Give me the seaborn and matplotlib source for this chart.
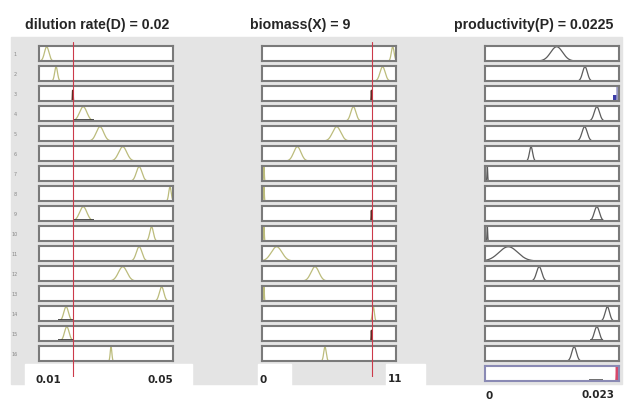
import numpy as np
import pandas as pd
import matplotlib
matplotlib.use("Agg")
import matplotlib.pyplot as plt
import seaborn as sns
from matplotlib.patches import Rectangle

# tamaño de la captura en pixeles
W, H = 629, 402

# datos
titulos = ["dilution rate(D) = 0.02", "biomass(X) = 9", "productivity(P) = 0.0225"]
rangos = [(0.01, 0.05), (0.0, 11.0), (0.0, 0.023)]
etiquetas_rango = [("0.01", "0.05"), ("0", "11"), ("0", "0.023")]
evidencia = [0.02, 9.0, None]

# centro y ancho (sd) del pico de cada fila, None = fila vacia
centros_D = [0.0123, 0.0151, 0.0201, 0.0232, 0.0282, 0.0350, 0.0399, 0.0491,
             0.0232, 0.0436, 0.0399, 0.0350, 0.0466, 0.0181, 0.0183, 0.0315]
anchos_D = [0.00066, 0.00042, 0.00006, 0.0011, 0.0011, 0.0012, 0.00084, 0.00036,
            0.0011, 0.00054, 0.00084, 0.0013, 0.00066, 0.0007, 0.0007, 0.00024]
tipos_D = ["p", "p", "o", "p", "p", "p", "p", "p",
           "p", "p", "p", "p", "p", "p", "p", "p"]

centros_X = [10.73, 9.9, 9.0, 7.5, 6.13, 2.9, 0.16, 0.16,
             9.0, 0.16, 1.2, 4.35, 0.16, 9.14, 9.0, 5.17]
anchos_X = [0.115, 0.21, 0.02, 0.21, 0.34, 0.3, 0.03, 0.03,
            0.02, 0.03, 0.44, 0.33, 0.03, 0.08, 0.02, 0.1]
tipos_X = ["p", "p", "o", "p", "p", "p", "p", "p",
           "o", "p", "p", "p", "p", "p", "o", "p"]

centros_P = [0.0123, 0.01716, 0.0227, 0.0192, 0.0171, 0.0079, 0.0004, None,
             0.0192, 0.0004, 0.0040, 0.0093, None, 0.0210, 0.0192, 0.0153, 0.0226]
anchos_P = [0.00103, 0.00041, 0.00004, 0.00045, 0.00045, 0.00027, 0.00006, None,
            0.00045, 0.00006, 0.0016, 0.00045, None, 0.00038, 0.00042, 0.0004, 0.00004]
tipos_P = ["g", "g", "b", "g", "g", "g", "g", None,
           "g", "g", "g", "g", None, "g", "g", "g", "r"]

# lineas oscuras en la base de algunos picos (fila: desde, hasta)
bases_D = {4: (0.0201, 0.0264), 9: (0.0201, 0.0265), 14: (0.0157, 0.0201), 15: (0.0157, 0.0201)}
bases_X = {}
bases_P = {9: (0.0181, 0.0203), 15: (0.0181, 0.0203), 17: (0.0179, 0.0203)}
bloque_azul = (0.0219, 0.0229, 0.38)  # fila 3 de P

columnas = [
    (centros_D, anchos_D, tipos_D, bases_D),
    (centros_X, anchos_X, tipos_X, bases_X),
    (centros_P, anchos_P, tipos_P, bases_P),
]

colores = {"p": "#bcbc7c", "g": "#5c5c5c", "o": "#5a2a20", "b": "#9a9ac4", "r": "#d8486a"}
alturas = {"p": 0.95, "g": 0.95, "o": 0.7, "b": 0.95, "r": 0.95}

gris = "#e4e4e4"
borde = "#7a7a7a"

sns.set_theme(style="white")
plt.rcParams["font.family"] = ["DejaVu Sans"]


def caja(x0, y0, w, h):
    return [x0 / W, 1 - (y0 + h) / H, w / W, h / H]


def rect_fig(fig, x0, y0, x1, y1, color):
    fig.patches.append(Rectangle((x0 / W, 1 - y1 / H), (x1 - x0) / W, (y1 - y0) / H,
                                 transform=fig.transFigure, color=color, zorder=-5))


fig = plt.figure(figsize=(W / 100, H / 100), dpi=100)
fig.patch.set_facecolor("white")

# fondo gris de la ventana y parches blancos de la captura
rect_fig(fig, 11, 38, 622, 385, gris)
rect_fig(fig, 25, 365, 192, 402, "white")
rect_fig(fig, 258, 365, 291, 402, "white")
rect_fig(fig, 386, 365, 425, 402, "white")

x_col = [39, 262, 485]
ancho_panel, alto_panel, paso, y_ini = 134, 15, 20, 47

for c, (centros, anchos, tipos, bases) in enumerate(columnas):
    lo, hi = rangos[c]
    xs = np.linspace(lo, hi, 3000)
    for i, mu in enumerate(centros):
        ax = fig.add_axes(caja(x_col[c], y_ini + paso * i, ancho_panel, alto_panel))
        ax.set_facecolor("white")
        ax.set_xlim(lo, hi)
        ax.set_ylim(0, 1)
        ax.set_xticks([])
        ax.set_yticks([])
        ultimo = (c == 2 and i == len(centros) - 1)
        for s in ax.spines.values():
            s.set_color("#8a8ab4" if ultimo else borde)
            s.set_linewidth(1.5)
        if mu is None:
            continue
        t = tipos[i]
        sd = anchos[i]
        ys = alturas[t] * np.exp(-0.5 * ((xs - mu) / sd) ** 2)
        df = pd.DataFrame({"x": xs, "y": ys})
        df = df[df["y"] > 0.004]
        lw = 1.3 if t in ("o", "r") else 0.9
        sns.lineplot(data=df, x="x", y="y", ax=ax, color=colores[t], lw=lw,
                     sort=False, estimator=None)
        if t == "b":
            ax.fill_between([bloque_azul[0], bloque_azul[1]], 0, bloque_azul[2],
                            color="#3c3ca8", lw=0)
        if t == "r":
            ax.fill_between([mu - 0.00012, mu + 0.00012], 0, 0.25, color="#6a2a50", lw=0)
        if (i + 1) in bases:
            a, b = bases[i + 1]
            ax.hlines(0.08, a, b, color="#333333" if c == 0 else "#555555", lw=1.2)
        ax.set_xlabel("")
        ax.set_ylabel("")

    # linea roja de evidencia
    if evidencia[c] is not None:
        ov = fig.add_axes(caja(x_col[c], 43, ancho_panel, 335))
        ov.set_xlim(lo, hi)
        ov.axis("off")
        ov.patch.set_alpha(0)
        ov.axvline(evidencia[c], color="#cc3a4a", lw=0.8)

# numeros de fila
for i in range(16):
    fig.text(15 / W, 1 - (y_ini + paso * i + 8) / H, str(i + 1), fontsize=3.5,
             color="#888888", ha="center", va="center")

# titulos
fig.text(25 / W, 1 - 25 / H, titulos[0], fontsize=10.2, fontweight="bold",
         family="Liberation Sans", ha="left", va="center")
fig.text(300 / W, 1 - 25 / H, titulos[1], fontsize=10.2, fontweight="bold",
         family="Liberation Sans", ha="center", va="center")
fig.text(534 / W, 1 - 25 / H, titulos[2], fontsize=10.2, fontweight="bold",
         family="Liberation Sans", ha="center", va="center")

# etiquetas de rango
fig.text(35 / W, 1 - 380 / H, etiquetas_rango[0][0], fontsize=7.5, fontweight="bold", ha="left", va="center")
fig.text(173 / W, 1 - 380 / H, etiquetas_rango[0][1], fontsize=7.5, fontweight="bold", ha="right", va="center")
fig.text(260 / W, 1 - 380 / H, etiquetas_rango[1][0], fontsize=7.5, fontweight="bold", ha="left", va="center")
fig.text(402 / W, 1 - 379 / H, etiquetas_rango[1][1], fontsize=7.5, fontweight="bold", ha="right", va="center")
fig.text(489 / W, 1 - 396 / H, etiquetas_rango[2][0], fontsize=7.5, fontweight="bold", ha="center", va="center")
fig.text(614 / W, 1 - 395 / H, etiquetas_rango[2][1], fontsize=7.5, fontweight="bold", ha="right", va="center")

fig.savefig("out.png", dpi=100)
